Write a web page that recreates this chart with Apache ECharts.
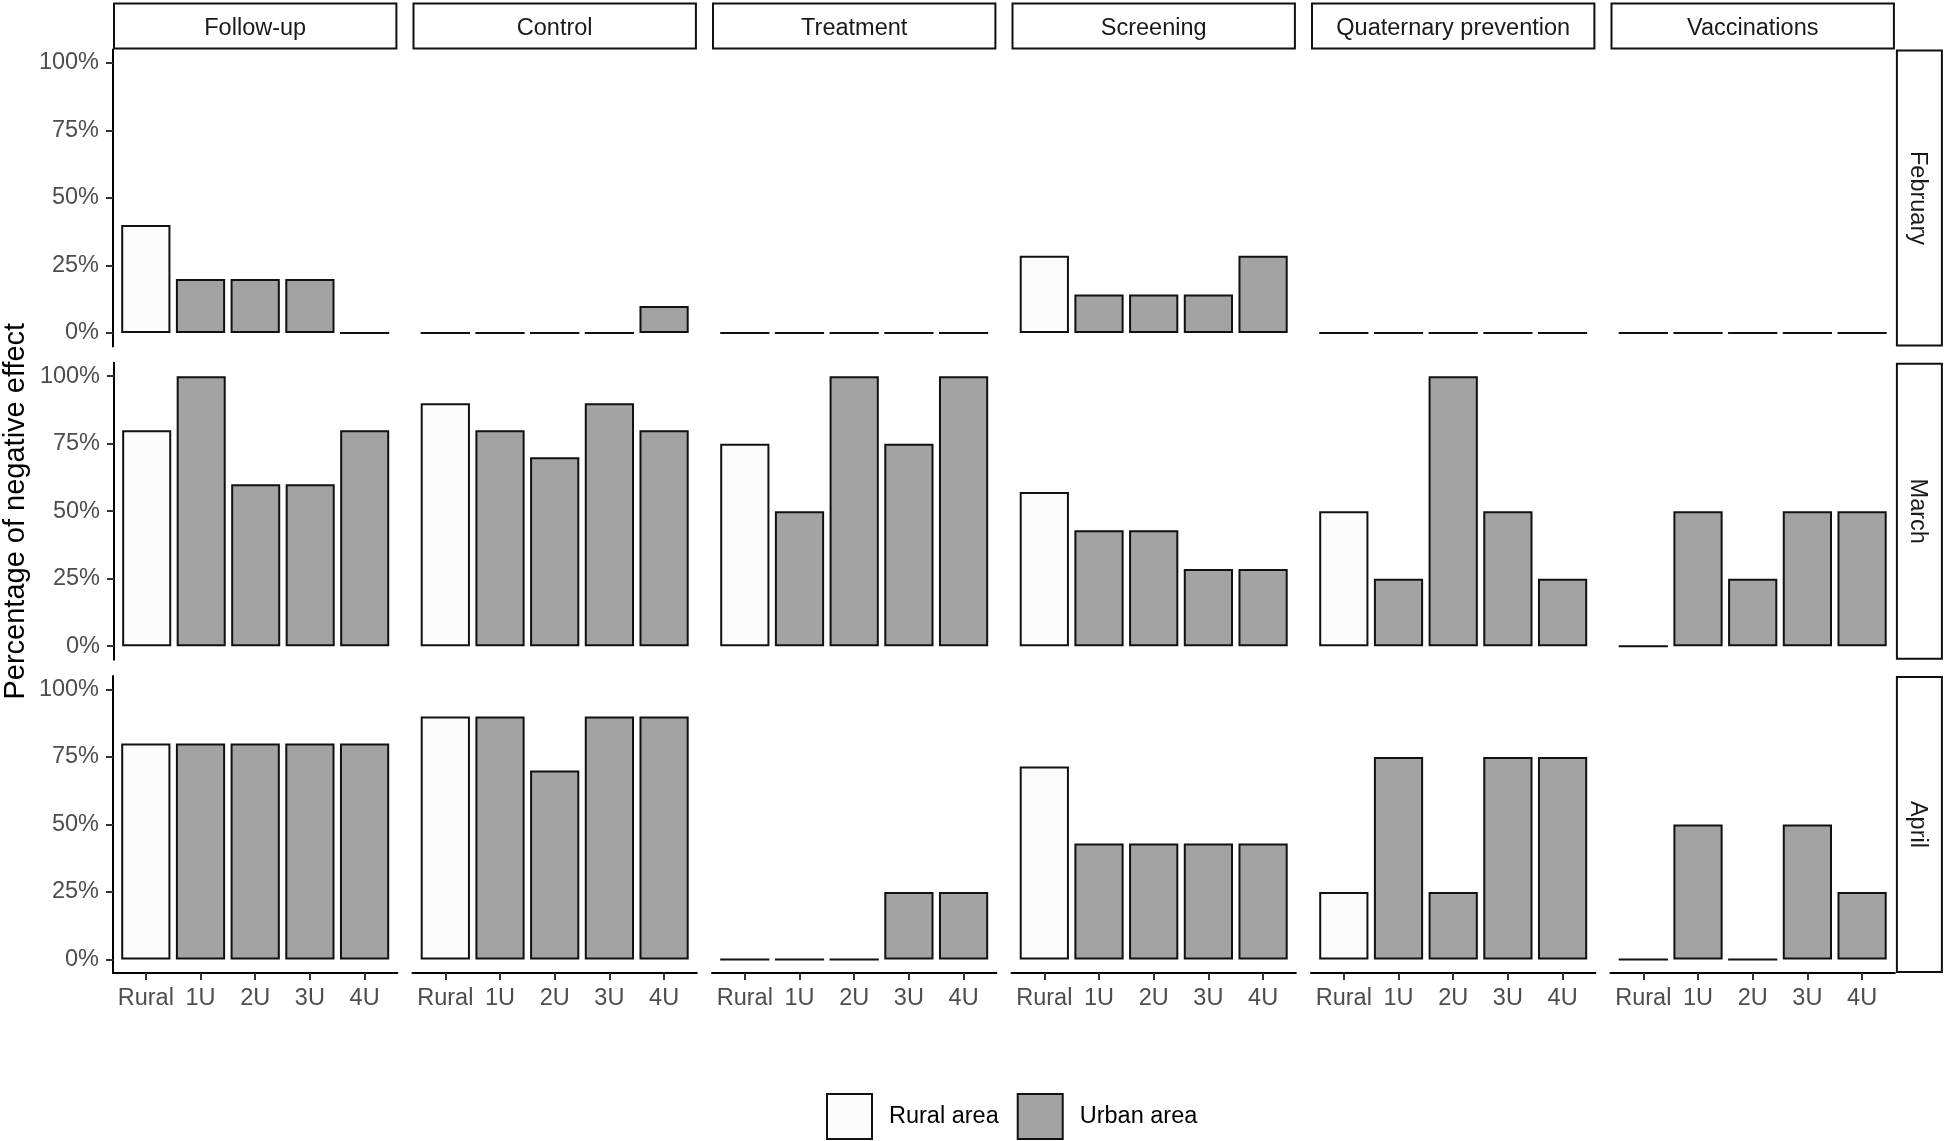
<!DOCTYPE html>
<html>
<head>
<meta charset="utf-8">
<script src="https://cdn.jsdelivr.net/npm/echarts@6/dist/echarts.min.js"></script>
<style>html,body{margin:0;padding:0;background:#fff}#c{width:1946px;height:1141px}</style>
</head>
<body>
<div id="c"></div>
<script>
// ---------- data ----------
const categories = ['Rural', '1U', '2U', '3U', '4U'];
const facets = ['Follow-up', 'Control', 'Treatment', 'Screening', 'Quaternary prevention', 'Vaccinations'];
const months = ['February', 'March', 'April'];
const yTicks = [0, 25, 50, 75, 100];
// rows: facets; columns: categories (Rural, 1U..4U), % negative effect
const february = [
  [40, 20, 20, 20, 0],
  [0, 0, 0, 0, 10],
  [0, 0, 0, 0, 0],
  [28.6, 14.3, 14.3, 14.3, 28.6],
  [0, 0, 0, 0, 0],
  [0, 0, 0, 0, 0]
];
const march = [
  [80, 100, 60, 60, 80],
  [90, 80, 70, 90, 80],
  [75, 50, 100, 75, 100],
  [57.1, 42.9, 42.9, 28.6, 28.6],
  [50, 25, 100, 50, 25],
  [0, 50, 25, 50, 50]
];
const april = [
  [80, 80, 80, 80, 80],
  [90, 90, 70, 90, 90],
  [0, 0, 0, 25, 25],
  [71.4, 42.9, 42.9, 42.9, 42.9],
  [25, 75, 25, 75, 75],
  [0, 50, 0, 50, 25]
];
const monthData = [february, march, april];
const seriesNames = ['Rural area', 'Urban area'];

// ---------- layout ----------
const FONT = '"Liberation Sans", Arial, sans-serif';
const L0 = 113, PW = 284.4, PX = 299.5;
const T0 = 49.5, PH = 297, PY = 313.2;
const catPos = categories.map((_, i) => i + 1);

const grid = [], xAxis = [], yAxis = [], series = [], graphic = [];
let idx = 0;
for (let r = 0; r < months.length; r++) {
  for (let c = 0; c < facets.length; c++) {
    grid.push({ left: L0 + c * PX, top: T0 + r * PY, width: PW, height: PH, containLabel: false });
    const bottom = r === months.length - 1, first = c === 0;
    xAxis.push({
      type: 'value', gridIndex: idx, min: 0.4, max: 5.6,
      splitLine: { show: false },
      axisLine: { show: bottom, onZero: false, lineStyle: { color: '#000', width: 2 } },
      axisTick: { show: bottom, length: 7, customValues: catPos, lineStyle: { color: '#333', width: 2 } },
      axisLabel: { show: bottom, customValues: catPos, margin: 14, fontSize: 23.5, color: '#4d4d4d', fontFamily: FONT,
        formatter: v => categories[Math.round(v) - 1] }
    });
    const y = {
      type: 'value', gridIndex: idx, min: -5, max: 105,
      splitLine: { show: false },
      axisLine: { show: first, onZero: false, lineStyle: { color: '#000', width: 2 } },
      axisTick: { show: first, length: 7, customValues: yTicks, lineStyle: { color: '#333', width: 2 } },
      axisLabel: { show: first, customValues: yTicks, margin: 14, fontSize: 23.5, color: '#4d4d4d', fontFamily: FONT,
        formatter: v => v + '%' }
    };
    if (first && r === 1) {
      y.name = 'Percentage of negative effect';
      y.nameLocation = 'middle';
      y.nameGap = 84;
      y.nameTextStyle = { fontSize: 29, color: '#000', fontFamily: FONT };
    }
    yAxis.push(y);
    const vals = monthData[r][c];
    series.push({
      type: 'bar', name: seriesNames[0], xAxisIndex: idx, yAxisIndex: idx,
      barWidth: '90%', barGap: '-100%',
      itemStyle: { color: '#fcfcfc', borderColor: '#111', borderWidth: 2 },
      emphasis: { disabled: true },
      data: [[catPos[0], vals[0]]]
    });
    series.push({
      type: 'bar', name: seriesNames[1], xAxisIndex: idx, yAxisIndex: idx,
      barWidth: '90%', barGap: '-100%',
      itemStyle: { color: '#a3a3a3', borderColor: '#111', borderWidth: 2 },
      emphasis: { disabled: true },
      data: vals.slice(1).map((v, i) => [catPos[i + 1], v])
    });
    idx++;
  }
}

// facet strips (top)
for (let c = 0; c < facets.length; c++) {
  const x = L0 + c * PX;
  graphic.push({ type: 'rect', shape: { x: x + 1, y: 3.5, width: PW - 2, height: 45 },
    style: { fill: '#fff', stroke: '#111', lineWidth: 2 }, silent: true });
  graphic.push({ type: 'text', x: x + PW / 2, y: 28.5,
    style: { text: facets[c], font: '23.5px ' + FONT, fill: '#1a1a1a', textAlign: 'center', textVerticalAlign: 'middle' }, silent: true });
}
// facet strips (right)
const RX = L0 + 5 * PX + PW + 2;
for (let r = 0; r < months.length; r++) {
  const y = T0 + r * PY;
  graphic.push({ type: 'rect', shape: { x: RX, y: y + 1, width: 45, height: PH - 2 },
    style: { fill: '#fff', stroke: '#111', lineWidth: 2 }, silent: true });
  graphic.push({ type: 'text', x: RX + 20.5, y: y + PH / 2, rotation: -Math.PI / 2,
    style: { text: months[r], font: '23.5px ' + FONT, fill: '#1a1a1a', textAlign: 'center', textVerticalAlign: 'middle' }, silent: true });
}

const chart = echarts.init(document.getElementById('c'), null, { renderer: 'canvas' });
chart.setOption({
  animation: false,
  backgroundColor: '#fff',
  textStyle: { fontFamily: FONT },
  grid, xAxis, yAxis, series, graphic,
  legend: {
    data: seriesNames, left: 826, top: 1093, padding: 0,
    itemWidth: 45, itemHeight: 45, itemGap: 18, icon: 'rect',
    textStyle: { fontSize: 23.5, color: '#000', fontFamily: FONT, padding: [5, 0, 0, 12] }
  }
});
</script>
</body>
</html>
